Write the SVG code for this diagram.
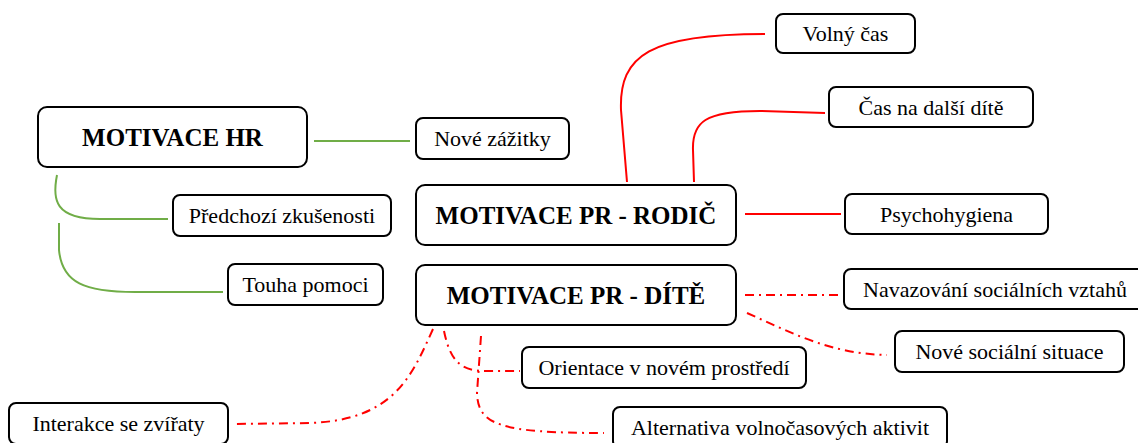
<svg xmlns="http://www.w3.org/2000/svg" width="1138" height="443" viewBox="0 0 1138 443">
  <style>
    .box { fill: #ffffff; stroke: #000000; stroke-width: 2; }
    .t { font-family: "Liberation Serif", "Times New Roman", serif; font-size: 22px; fill: #000000; text-anchor: middle; }
    .h { font-family: "Liberation Serif", "Times New Roman", serif; font-size: 25px; font-weight: bold; fill: #000000; text-anchor: middle; }
    .green { fill: none; stroke: #70ad47; stroke-width: 2; }
    .red { fill: none; stroke: #ff0000; stroke-width: 2; }
    .reddash { fill: none; stroke: #ff0000; stroke-width: 2; stroke-dasharray: 9 5 2 5; }
  </style>
  <rect width="1138" height="443" fill="#ffffff"/>

  <g id="connectors">
    <!-- HR branch -->
    <path class="green" d="M314,141 L410,141"/>
    <path class="green" d="M57,175 C52,200 55,219 100,219 L168,219"/>
    <path class="green" d="M59,223 L59,250 C62,283 85,292 135,292 L223,292"/>
    <!-- PR - rodič branch -->
    <path class="red" d="M627,182 L621,110 C619,55 650,34 765,34"/>
    <path class="red" d="M694,182 L693,150 C692,122 705,111 760,111 L825,113"/>
    <path class="red" d="M745,214 L841,214"/>
    <!-- PR - dítě branch -->
    <path class="reddash" d="M745,295 L842,295"/>
    <path class="reddash" d="M747,313 C790,332 830,354 887,355"/>
    <path class="reddash" d="M433,329 C412,375 395,420 310,423 L234,424"/>
    <path class="reddash" d="M444,331 C450,360 460,371 485,371 L520,371"/>
    <path class="reddash" d="M481,336 L477,393 C478,425 500,433 604,433"/>
  </g>

  <g id="motivace-hr">
    <rect class="box" x="38" y="107" width="269" height="60" rx="9"/>
    <text class="h" x="172.5" y="146">MOTIVACE HR</text>
  </g>
  <g id="nove-zazitky">
    <rect class="box" x="416" y="118" width="153" height="41" rx="7"/>
    <text class="t" x="492.5" y="146">Nové zážitky</text>
  </g>
  <g id="predchozi-zkusenosti">
    <rect class="box" x="173" y="195" width="218" height="41" rx="7"/>
    <text class="t" x="282" y="223">Předchozí zkušenosti</text>
  </g>
  <g id="touha-pomoci">
    <rect class="box" x="228" y="264" width="155" height="41" rx="7"/>
    <text class="t" x="305.5" y="292">Touha pomoci</text>
  </g>

  <g id="motivace-pr-rodic">
    <rect class="box" x="416" y="185" width="320" height="60" rx="9"/>
    <text class="h" x="576" y="224">MOTIVACE PR - RODIČ</text>
  </g>
  <g id="volny-cas">
    <rect class="box" x="776" y="14" width="139" height="39" rx="7"/>
    <text class="t" x="845.5" y="41">Volný čas</text>
  </g>
  <g id="cas-na-dalsi-dite">
    <rect class="box" x="829" y="87" width="204" height="40" rx="7"/>
    <text class="t" x="931" y="114.5">Čas na další dítě</text>
  </g>
  <g id="psychohygiena">
    <rect class="box" x="845" y="194" width="203" height="40" rx="7"/>
    <text class="t" x="946.5" y="221.5">Psychohygiena</text>
  </g>

  <g id="motivace-pr-dite">
    <rect class="box" x="416" y="265" width="320" height="60" rx="9"/>
    <text class="h" x="576" y="304">MOTIVACE PR - DÍTĚ</text>
  </g>
  <g id="navazovani-vztahu">
    <rect class="box" x="844" y="269" width="302" height="40" rx="7"/>
    <text class="t" x="995" y="296.5">Navazování sociálních vztahů</text>
  </g>
  <g id="nove-socialni-situace">
    <rect class="box" x="895" y="331" width="229" height="41" rx="7"/>
    <text class="t" x="1009.5" y="359">Nové sociální situace</text>
  </g>
  <g id="orientace">
    <rect class="box" x="522" y="347" width="284" height="41" rx="7"/>
    <text class="t" x="664" y="375">Orientace v novém prostředí</text>
  </g>
  <g id="alternativa">
    <rect class="box" x="613" y="407" width="334" height="41" rx="7"/>
    <text class="t" x="780" y="435">Alternativa volnočasových aktivit</text>
  </g>
  <g id="interakce">
    <rect class="box" x="9" y="403" width="219" height="41" rx="7"/>
    <text class="t" x="118.5" y="431">Interakce se zvířaty</text>
  </g>
</svg>
